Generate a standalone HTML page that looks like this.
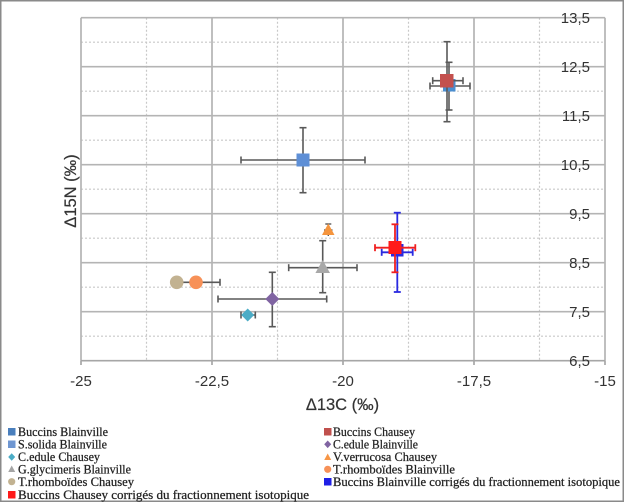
<!DOCTYPE html>
<html>
<head>
<meta charset="utf-8">
<style>
  html,body{margin:0;padding:0;background:#fff;}
  svg{display:block;}
  .tick{font-family:"Liberation Sans",sans-serif;font-size:15px;fill:#333;}
  .title{font-family:"Liberation Sans",sans-serif;font-size:16.5px;fill:#333;stroke:#333;stroke-width:0.2;}
  .leg{font-family:"Liberation Serif",serif;font-size:12.5px;fill:#222;stroke:#222;stroke-width:0.25;}
</style>
</head>
<body>
<svg width="625" height="502" viewBox="0 0 625 502" xmlns="http://www.w3.org/2000/svg">
  <rect x="0" y="0" width="625" height="502" fill="#fff"/>
  <rect x="0.75" y="0.75" width="622.5" height="500.5" fill="none" stroke="#8a8a8a" stroke-width="1.5"/>

  <!-- minor gridlines (dotted) -->
  <g stroke="#c8c8c8" stroke-width="1.2" stroke-dasharray="2,2" fill="none">
    <line x1="81" y1="42.2" x2="605" y2="42.2"/>
    <line x1="81" y1="91.2" x2="605" y2="91.2"/>
    <line x1="81" y1="140.2" x2="605" y2="140.2"/>
    <line x1="81" y1="189.2" x2="605" y2="189.2"/>
    <line x1="81" y1="238.2" x2="605" y2="238.2"/>
    <line x1="81" y1="287.2" x2="605" y2="287.2"/>
    <line x1="81" y1="336.2" x2="605" y2="336.2"/>
    <line x1="146.5" y1="17.7" x2="146.5" y2="360.7"/>
    <line x1="277.5" y1="17.7" x2="277.5" y2="360.7"/>
    <line x1="408.5" y1="17.7" x2="408.5" y2="360.7"/>
    <line x1="539.5" y1="17.7" x2="539.5" y2="360.7"/>
  </g>
  <!-- major gridlines -->
  <g stroke="#b4b4b4" stroke-width="1.7" fill="none">
    <line x1="81" y1="17.7" x2="605" y2="17.7"/>
    <line x1="81" y1="66.7" x2="605" y2="66.7"/>
    <line x1="81" y1="115.7" x2="605" y2="115.7"/>
    <line x1="81" y1="164.7" x2="605" y2="164.7"/>
    <line x1="81" y1="213.7" x2="605" y2="213.7"/>
    <line x1="81" y1="262.7" x2="605" y2="262.7"/>
    <line x1="81" y1="311.7" x2="605" y2="311.7"/>
    <line x1="81" y1="17.7" x2="81" y2="360.7"/>
    <line x1="212" y1="17.7" x2="212" y2="360.7"/>
    <line x1="343" y1="17.7" x2="343" y2="360.7"/>
    <line x1="474" y1="17.7" x2="474" y2="360.7"/>
    <line x1="605" y1="17.7" x2="605" y2="360.7"/>
  </g>
  <!-- x axis -->
  <g stroke="#a6a6a6" stroke-width="1.7">
    <line x1="81" y1="360.7" x2="605" y2="360.7"/>
    <line x1="81" y1="360.7" x2="81" y2="365"/>
    <line x1="212" y1="360.7" x2="212" y2="365"/>
    <line x1="343" y1="360.7" x2="343" y2="365"/>
    <line x1="474" y1="360.7" x2="474" y2="365"/>
    <line x1="605" y1="360.7" x2="605" y2="365"/>
  </g>

  <!-- y tick labels -->
  <g class="tick" text-anchor="end">
    <text x="590" y="23">13,5</text>
    <text x="590" y="72">12,5</text>
    <text x="590" y="121">11,5</text>
    <text x="590" y="170">10,5</text>
    <text x="590" y="219">9,5</text>
    <text x="590" y="268">8,5</text>
    <text x="590" y="317">7,5</text>
    <text x="590" y="366">6,5</text>
  </g>
  <!-- x tick labels -->
  <g class="tick" text-anchor="middle">
    <text x="81" y="386">-25</text>
    <text x="212" y="386">-22,5</text>
    <text x="343" y="386">-20</text>
    <text x="474" y="386">-17,5</text>
    <text x="605" y="386">-15</text>
  </g>

  <!-- axis titles -->
  <text class="title" x="342.5" y="410" text-anchor="middle">Δ13C (‰)</text>
  <text class="title" x="0" y="0" text-anchor="middle" transform="translate(76,191) rotate(-90)">Δ15N (‰)</text>

  <!-- ===== Series ===== -->
  <!-- S.solida Blainville -->
  <g stroke="#595959" stroke-width="1.6">
    <line x1="241" y1="160" x2="365" y2="160"/>
    <line x1="241" y1="156.5" x2="241" y2="163.5"/>
    <line x1="365" y1="156.5" x2="365" y2="163.5"/>
    <line x1="303" y1="127.7" x2="303" y2="192.7"/>
    <line x1="299.5" y1="127.7" x2="306.5" y2="127.7"/>
    <line x1="299.5" y1="192.7" x2="306.5" y2="192.7"/>
  </g>
  <rect x="296.5" y="153.5" width="13" height="13" fill="#5e8fd6"/>

  <!-- Buccins Blainville -->
  <g stroke="#595959" stroke-width="1.6">
    <line x1="430" y1="86" x2="470" y2="86"/>
    <line x1="430" y1="82.5" x2="430" y2="89.5"/>
    <line x1="470" y1="82.5" x2="470" y2="89.5"/>
    <line x1="449" y1="62.3" x2="449" y2="110"/>
    <line x1="445.5" y1="62.3" x2="452.5" y2="62.3"/>
    <line x1="445.5" y1="110" x2="452.5" y2="110"/>
  </g>
  <rect x="443" y="79" width="12.5" height="12.5" fill="#4a8ed0"/>

  <!-- Buccins Chausey -->
  <g stroke="#595959" stroke-width="1.6">
    <line x1="432.7" y1="80.7" x2="463" y2="80.7"/>
    <line x1="432.7" y1="77.2" x2="432.7" y2="84.2"/>
    <line x1="463" y1="77.2" x2="463" y2="84.2"/>
    <line x1="447" y1="41.7" x2="447" y2="121.7"/>
    <line x1="443.5" y1="41.7" x2="450.5" y2="41.7"/>
    <line x1="443.5" y1="121.7" x2="450.5" y2="121.7"/>
  </g>
  <rect x="440" y="74" width="13.5" height="13.5" fill="#c3504e"/>

  <!-- V.verrucosa Chausey -->
  <g stroke="#595959" stroke-width="1.4">
    <line x1="324" y1="230" x2="332.5" y2="230"/>
    <line x1="328.3" y1="224" x2="328.3" y2="236"/>
    <line x1="325.3" y1="224" x2="331.3" y2="224"/>
  </g>
  <polygon points="328.3,223.5 334.5,235 322,235" fill="#f5953e"/>

  <!-- G.glycimeris Blainville -->
  <g stroke="#595959" stroke-width="1.6">
    <line x1="288.7" y1="267.7" x2="357" y2="267.7"/>
    <line x1="288.7" y1="264.2" x2="288.7" y2="271.2"/>
    <line x1="357" y1="264.2" x2="357" y2="271.2"/>
    <line x1="322.7" y1="240.7" x2="322.7" y2="292.7"/>
    <line x1="319.2" y1="240.7" x2="326.2" y2="240.7"/>
    <line x1="319.2" y1="292.7" x2="326.2" y2="292.7"/>
  </g>
  <polygon points="322.7,260 330,273 315.4,273" fill="#a8a8a8"/>

  <!-- C.edule Blainville -->
  <g stroke="#595959" stroke-width="1.6">
    <line x1="218" y1="299" x2="326.7" y2="299"/>
    <line x1="218" y1="295.5" x2="218" y2="302.5"/>
    <line x1="326.7" y1="295.5" x2="326.7" y2="302.5"/>
    <line x1="272.3" y1="272.3" x2="272.3" y2="326.7"/>
    <line x1="268.8" y1="272.3" x2="275.8" y2="272.3"/>
    <line x1="268.8" y1="326.7" x2="275.8" y2="326.7"/>
  </g>
  <polygon points="272.3,292 279.3,299 272.3,306 265.3,299" fill="#8064a2"/>

  <!-- C.edule Chausey -->
  <g stroke="#595959" stroke-width="1.6">
    <line x1="241" y1="315" x2="255.3" y2="315"/>
    <line x1="241" y1="311.5" x2="241" y2="318.5"/>
    <line x1="255.3" y1="311.5" x2="255.3" y2="318.5"/>
  </g>
  <polygon points="247.7,308.5 254.2,315 247.7,321.5 241.2,315" fill="#4bacc6"/>

  <!-- T.rhomboides Blainville -->
  <g stroke="#595959" stroke-width="1.6">
    <line x1="172" y1="282.3" x2="220" y2="282.3"/>
    <line x1="220" y1="278.8" x2="220" y2="285.8"/>
  </g>
  <circle cx="196" cy="282.3" r="6.8" fill="#f79158"/>
  <!-- T.rhomboides Chausey -->
  <circle cx="176.7" cy="282.3" r="6.8" fill="#c2b291"/>

  <!-- Buccins Blainville corrigés -->
  <g stroke="#2a2ae0" stroke-width="1.8">
    <line x1="381.7" y1="252.3" x2="412.7" y2="252.3"/>
    <line x1="381.7" y1="248.8" x2="381.7" y2="255.8"/>
    <line x1="412.7" y1="248.8" x2="412.7" y2="255.8"/>
    <line x1="397.3" y1="212.7" x2="397.3" y2="292"/>
    <line x1="393.8" y1="212.7" x2="400.8" y2="212.7"/>
    <line x1="393.8" y1="292" x2="400.8" y2="292"/>
  </g>
  <rect x="391" y="244" width="12.5" height="12.5" fill="#2a2ae0"/>

  <!-- Buccins Chausey corrigés -->
  <g stroke="#f02020" stroke-width="1.8">
    <line x1="375" y1="247.7" x2="415.3" y2="247.7"/>
    <line x1="375" y1="244.2" x2="375" y2="251.2"/>
    <line x1="415.3" y1="244.2" x2="415.3" y2="251.2"/>
    <line x1="395" y1="224.3" x2="395" y2="272.3"/>
    <line x1="391.5" y1="224.3" x2="398.5" y2="224.3"/>
    <line x1="391.5" y1="272.3" x2="398.5" y2="272.3"/>
  </g>
  <rect x="388.5" y="241" width="13" height="13" fill="#ff1a1a"/>

  <!-- ===== Legend ===== -->
  <!-- left column -->
  <rect x="8" y="428" width="7.5" height="7.5" fill="#4a7fbd"/>
  <text class="leg" x="18" y="436" textLength="90" lengthAdjust="spacingAndGlyphs">Buccins Blainville</text>
  <rect x="8" y="440.5" width="7.5" height="7.5" fill="#6f97d2"/>
  <text class="leg" x="18" y="448.5" textLength="89" lengthAdjust="spacingAndGlyphs">S.solida Blainville</text>
  <polygon points="11.7,453.2 15.2,457 11.7,460.8 8.2,457" fill="#4bacc6"/>
  <text class="leg" x="18" y="461" textLength="82" lengthAdjust="spacingAndGlyphs">C.edule Chausey</text>
  <polygon points="11.7,465.5 15.2,472 8.2,472" fill="#a5a5a5"/>
  <text class="leg" x="18" y="473.5" textLength="113" lengthAdjust="spacingAndGlyphs">G.glycimeris Blainville</text>
  <circle cx="11.7" cy="481.7" r="3.6" fill="#c2b291"/>
  <text class="leg" x="18" y="486" textLength="116" lengthAdjust="spacingAndGlyphs">T.rhomboïdes Chausey</text>
  <rect x="8" y="491" width="7.5" height="7.5" fill="#ff1a1a"/>
  <text class="leg" x="18" y="499" textLength="291" lengthAdjust="spacingAndGlyphs">Buccins Chausey corrigés du fractionnement isotopique</text>

  <!-- right column -->
  <rect x="324" y="428" width="7.5" height="7.5" fill="#c0504d"/>
  <text class="leg" x="333" y="436" textLength="82" lengthAdjust="spacingAndGlyphs">Buccins Chausey</text>
  <polygon points="327.7,440.5 331.2,444.3 327.7,448.1 324.2,444.3" fill="#8064a2"/>
  <text class="leg" x="333" y="448.5" textLength="85" lengthAdjust="spacingAndGlyphs">C.edule Blainville</text>
  <polygon points="327.7,453.5 331.2,460 324.2,460" fill="#f79646"/>
  <text class="leg" x="333" y="461" textLength="104" lengthAdjust="spacingAndGlyphs">V.verrucosa Chausey</text>
  <circle cx="327.7" cy="469.3" r="3.6" fill="#f79158"/>
  <text class="leg" x="333" y="473.5" textLength="122" lengthAdjust="spacingAndGlyphs">T.rhomboïdes  Blainville</text>
  <rect x="324" y="478" width="7.5" height="7.5" fill="#1f1fe6"/>
  <text class="leg" x="333" y="486" textLength="287" lengthAdjust="spacingAndGlyphs">Buccins Blainville corrigés du fractionnement isotopique</text>
</svg>
</body>
</html>
